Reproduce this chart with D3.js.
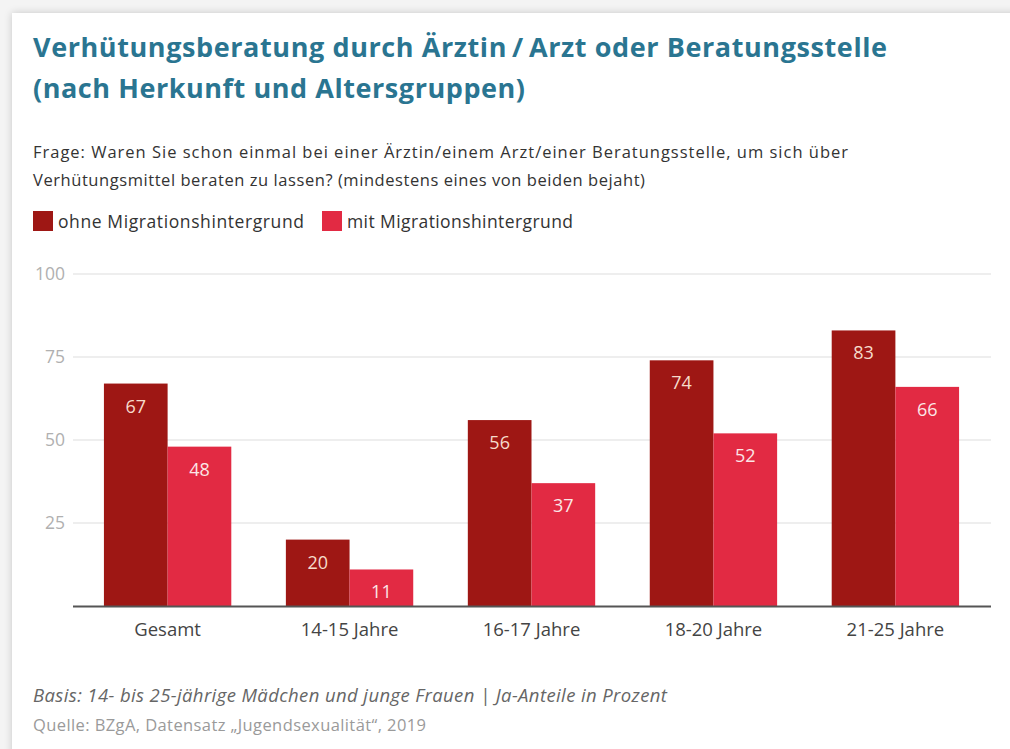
<!DOCTYPE html>
<html>
<head>
<meta charset="utf-8">
<script src="https://cdn.jsdelivr.net/npm/d3@7"></script>
<style>
  html, body { margin: 0; padding: 0; background: #f4f4f4; }
  body { width: 1010px; height: 749px; overflow: hidden; position: relative; }
  .card { position: absolute; left: 12px; top: 13px; width: 1030px; height: 760px; background: #fff;
          box-shadow: 0 0 8px rgba(0,0,0,0.18); }
  svg { position: absolute; left: 0; top: 0; }
</style>
</head>
<body>
<div class="card"></div>
<svg id="chart" width="1010" height="749"></svg>
<script>
var categories = ['Gesamt', '14-15 Jahre', '16-17 Jahre', '18-20 Jahre', '21-25 Jahre'];
var seriesNames = ['ohne Migrationshintergrund', 'mit Migrationshintergrund'];
var ohneValues = [67, 20, 56, 74, 83];
var mitValues = [48, 11, 37, 52, 66];
var yTicks = [25, 50, 75, 100];
var colours = ['#9e1714', '#e22a43'];
var labelColours = ['#f6dccb', '#fbe6e6'];

var svg = d3.select('#chart');
var font = "'Open Sans', 'Lato', sans-serif";

// fit a text element to a target width by nudging letter-spacing
function fitWidth(sel, target) {
    var w = sel.node().getComputedTextLength();
    var n = sel.text().length;
    if (n > 1) sel.attr('letter-spacing', ((target - w) / (n - 1)).toFixed(3));
    return sel;
}

// title
var title = svg.append('g').attr('font-family', font).attr('font-weight', 'bold')
    .attr('font-size', 27).attr('fill', '#2a7591');
fitWidth(title.append('text').attr('x', 33).attr('y', 57)
    .text('Verhütungsberatung durch Ärztin\u2009/\u2009Arzt oder Beratungsstelle'), 854);
fitWidth(title.append('text').attr('x', 33).attr('y', 98)
    .text('(nach Herkunft und Altersgruppen)'), 492);

// question
var q = svg.append('g').attr('font-family', font).attr('font-size', 16.5).attr('fill', '#333');
fitWidth(q.append('text').attr('x', 33).attr('y', 158)
    .text('Frage: Waren Sie schon einmal bei einer Ärztin/einem Arzt/einer Beratungsstelle, um sich über'), 815);
fitWidth(q.append('text').attr('x', 33).attr('y', 186)
    .text('Verhütungsmittel beraten zu lassen? (mindestens eines von beiden bejaht)'), 612);

// legend
var legendWidths = [246, 226];
var legend = svg.append('g').attr('class', 'legend');
var lx = 33;
seriesNames.forEach(function (name, i) {
    legend.append('rect').attr('x', lx).attr('y', 211).attr('width', 20).attr('height', 20).attr('fill', colours[i]);
    var t = legend.append('text').attr('x', lx + 25).attr('y', 228)
        .attr('font-family', font).attr('font-size', 17.5).attr('fill', '#333').text(name);
    fitWidth(t, legendWidths[i]);
    lx += 25 + legendWidths[i] + 18;
});

// scales
var x0 = d3.scaleBand().domain(categories).range([73, 990]).paddingInner(0.3).paddingOuter(0.17);
var x1 = d3.scaleBand().domain([0, 1]).range([0, x0.bandwidth()]);
var y = d3.scaleLinear().domain([0, 100]).range([606, 274]);

// grid
svg.append('g').selectAll('line').data(yTicks).join('line')
    .attr('x1', 73).attr('x2', 991)
    .attr('y1', function (d) { return y(d); }).attr('y2', function (d) { return y(d); })
    .attr('stroke', '#e8e8e8').attr('stroke-width', 1.5);

// y tick labels
svg.append('g').selectAll('text').data(yTicks).join('text')
    .attr('x', 65).attr('y', function (d) { return y(d) + 6; })
    .attr('text-anchor', 'end').attr('font-family', font).attr('font-size', 17.5)
    .attr('fill', '#b0b0b0').text(function (d) { return d; });

// bars
var rows = categories.map(function (c, i) { return { cat: c, vals: [ohneValues[i], mitValues[i]] }; });
var groups = svg.append('g').selectAll('g').data(rows).join('g')
    .attr('transform', function (d) { return 'translate(' + x0(d.cat) + ',0)'; });
groups.selectAll('rect').data(function (d) { return d.vals; }).join('rect')
    .attr('x', function (d, i) { return x1(i); })
    .attr('y', function (d) { return y(d); })
    .attr('width', x1.bandwidth())
    .attr('height', function (d) { return y(0) - y(d); })
    .attr('fill', function (d, i) { return colours[i]; });
groups.selectAll('text').data(function (d) { return d.vals; }).join('text')
    .attr('x', function (d, i) { return x1(i) + x1.bandwidth() / 2; })
    .attr('y', function (d) { return y(d) + 29; })
    .attr('text-anchor', 'middle').attr('font-family', font).attr('font-size', 18)
    .attr('fill', function (d, i) { return labelColours[i]; })
    .text(function (d) { return d; });

// baseline
svg.append('line').attr('x1', 73).attr('x2', 991).attr('y1', y(0) + 0.5).attr('y2', y(0) + 0.5)
    .attr('stroke', '#555').attr('stroke-width', 2);

// x axis labels
svg.append('g').selectAll('text').data(categories).join('text')
    .attr('x', function (d) { return x0(d) + x0.bandwidth() / 2; })
    .attr('y', 636).attr('text-anchor', 'middle').attr('font-family', font)
    .attr('font-size', 18.5).attr('fill', '#444').text(function (d) { return d; });

// footer
fitWidth(svg.append('text').attr('x', 33).attr('y', 702).attr('font-family', font).attr('font-style', 'italic')
    .attr('font-size', 18.5).attr('fill', '#666')
    .text('Basis: 14- bis 25-jährige Mädchen und junge Frauen | Ja-Anteile in Prozent'), 634);
fitWidth(svg.append('text').attr('x', 33).attr('y', 731).attr('font-family', font)
    .attr('font-size', 16.5).attr('fill', '#9a9a9a')
    .text('Quelle: BZgA, Datensatz \u201EJugendsexualität\u201C, 2019'), 393);
</script>
</body>
</html>
